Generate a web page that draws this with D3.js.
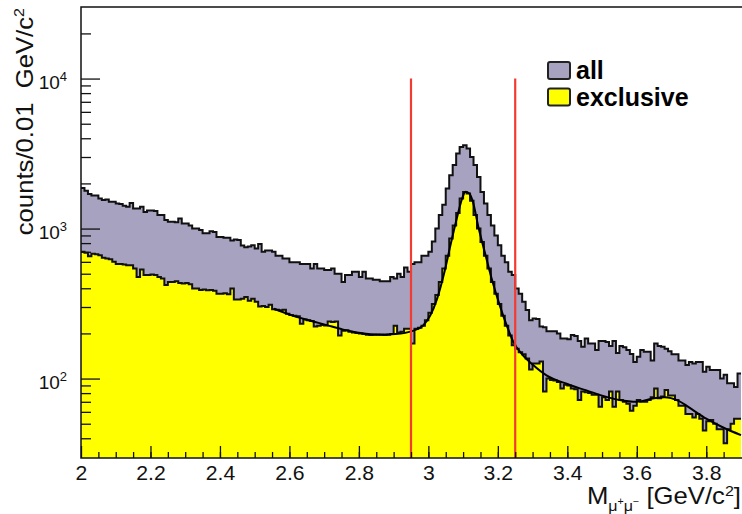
<!DOCTYPE html>
<html>
<head>
<meta charset="utf-8">
<script src="https://cdn.jsdelivr.net/npm/d3@7"></script>
<style>
body { margin: 0; background: #fff; }
svg { display: block; font-family: "Liberation Sans", Arial, Helvetica, sans-serif; }
</style>
</head>
<body>
<svg width="742" height="514"></svg>
<script>
// bin lower edges, 0.01 GeV wide, 2.00 .. 3.89
var binLow = d3.range(190).map(function (i) { return +(2 + i * 0.01).toFixed(2); });

var allCounts = [
    1865, 1790, 1700, 1660, 1660, 1585, 1550, 1560, 1510, 1510,
    1470, 1460, 1420, 1400, 1480, 1360, 1360, 1400, 1290, 1320,
    1320, 1310, 1230, 1230, 1140, 1110, 1110, 1100, 1166, 1080,
    1080, 1050, 1000, 1000, 980, 930, 930, 960, 950, 880,
    880, 870, 870, 833, 845, 840, 770, 750, 760, 775,
    736, 790, 700, 715, 715, 700, 660, 660, 631, 631,
    596, 596, 596, 580, 580, 580, 541, 580, 541, 541,
    530, 530, 541, 500, 500, 440, 490, 490, 515, 515,
    475, 515, 464, 464, 455, 455, 445, 445, 445, 475,
    465, 500, 475, 550, 515, 580, 596, 596, 660, 660,
    700, 820, 1000, 1230, 1440, 1850, 2270, 2650, 3160, 3500,
    3590, 3415, 3000, 2650, 2210, 1750, 1470, 1230, 1050, 900,
    775, 660, 596, 515, 490, 398, 368, 325, 286, 245,
    251, 250, 222, 220, 207, 207, 207, 200, 185, 185,
    183, 195, 192, 178, 163, 185, 171, 171, 155, 178,
    178, 175, 165, 178, 148, 165, 162, 155, 146, 129,
    140, 155, 151, 151, 132, 171, 165, 163, 158, 152,
    145, 145, 132, 132, 123, 129, 126, 129, 129, 111,
    120, 114, 114, 114, 100, 106, 93, 93, 88, 108
];

var exclusiveCounts = [
    700, 690, 655, 680, 675, 665, 640, 631, 625, 600,
    580, 580, 575, 570, 569, 541, 475, 533, 490, 490,
    495, 490, 475, 464, 420, 440, 440, 445, 433, 430,
    433, 425, 398, 398, 390, 392, 388, 390, 385, 368,
    368, 370, 365, 398, 336, 336, 340, 350, 330, 340,
    325, 302, 305, 300, 310, 290, 288, 285, 288, 270,
    265, 262, 260, 232, 248, 245, 242, 222, 225, 228,
    226, 240, 238, 240, 194, 208, 210, 205, 203, 201,
    200, 198, 196, 195, 196, 197, 196, 195, 196, 198,
    225, 203, 205, 215, 215, 171, 215, 218, 225, 245,
    275, 314, 360, 440, 541, 660, 858, 1050, 1270, 1585,
    1750, 1710, 1530, 1230, 1000, 815, 660, 541, 440, 368,
    314, 262, 225, 194, 167, 158, 150, 145, 136, 115,
    126, 126, 130, 82, 100, 98, 97, 95, 86, 91,
    90, 86, 85, 72, 82, 81, 80, 78, 78, 65,
    75, 72, 82, 65, 82, 72, 70, 68, 61, 66,
    72, 70, 70, 72, 75, 86, 74, 76, 84, 77,
    77, 72, 66, 66, 58, 58, 55, 58, 54, 45,
    52, 53, 50, 46, 46, 37, 46, 50, 54, 54
];

// smooth fit drawn over the exclusive sample
var fitMass = [2.555, 2.605, 2.655, 2.705, 2.755, 2.805, 2.855, 2.905, 2.955, 2.985,
    3.005, 3.025, 3.045, 3.065, 3.085, 3.097, 3.107, 3.117, 3.127, 3.145,
    3.165, 3.185, 3.205, 3.225, 3.245, 3.27, 3.30, 3.34, 3.40, 3.45,
    3.50, 3.55, 3.60, 3.65, 3.68, 3.72, 3.76, 3.80, 3.85, 3.90];
var fitCounts = [292, 265, 245, 228, 212, 201, 196, 198, 208, 226,
    262, 340, 500, 800, 1250, 1580, 1760, 1720, 1540, 1000,
    660, 440, 310, 228, 175, 145, 124, 105, 92, 84,
    77, 72, 70, 74, 75, 71, 62, 54, 47, 42];

var cutMass = [2.95, 3.25];
var cutTop = 10000;

var xTickValues = [2, 2.2, 2.4, 2.6, 2.8, 3, 3.2, 3.4, 3.6, 3.8];
var xMinorValues = d3.range(2.05, 3.9, 0.05);
var yDecades = [100, 1000, 10000];
var yMinorValues = [40, 50, 60, 70, 80, 90, 200, 300, 400, 500, 600, 700, 800, 900,
    2000, 3000, 4000, 5000, 6000, 7000, 8000, 9000, 20000];

var legendNames = ["all", "exclusive"];
var legendColors = ["#a7a2bf", "#ffff00"];

var svg = d3.select("svg");
var plotLeft = 81, plotRight = 741, plotTop = 7, plotBottom = 458;

var x = d3.scaleLinear().domain([2, 3.9]).range([plotLeft, plotRight]);
var y = d3.scaleLog().domain([30, 30000]).range([plotBottom - 1, plotTop]);

svg.append("defs").append("clipPath").attr("id", "plotclip")
    .append("rect").attr("x", plotLeft).attr("y", plotTop)
    .attr("width", 742 - plotLeft).attr("height", plotBottom - plotTop);

var plot = svg.append("g").attr("clip-path", "url(#plotclip)");

function histPoints(counts) {
    var pts = binLow.map(function (b, i) { return [b, counts[i]]; });
    pts.push([3.9, counts[counts.length - 1]]);
    return pts;
}

var area = d3.area()
    .curve(d3.curveStepAfter)
    .x(function (d) { return x(d[0]); })
    .y0(plotBottom)
    .y1(function (d) { return y(d[1]); });

var step = d3.line()
    .curve(d3.curveStepAfter)
    .x(function (d) { return x(d[0]); })
    .y(function (d) { return y(d[1]); });

var allPts = histPoints(allCounts);
var exclPts = histPoints(exclusiveCounts);

plot.append("path").attr("d", area(allPts)).attr("fill", legendColors[0]);
plot.append("path").attr("d", area(exclPts)).attr("fill", legendColors[1]);
plot.append("path").attr("d", step(allPts)).attr("fill", "none")
    .attr("stroke", "#111").attr("stroke-width", 2);
plot.append("path").attr("d", step(exclPts)).attr("fill", "none")
    .attr("stroke", "#111").attr("stroke-width", 2);

var fitLine = d3.line()
    .curve(d3.curveMonotoneX)
    .x(function (d, i) { return x(fitMass[i]); })
    .y(function (d) { return y(d); });
plot.append("path").attr("d", fitLine(fitCounts)).attr("fill", "none")
    .attr("stroke", "#000").attr("stroke-width", 2);

plot.selectAll(".cut").data(cutMass).enter().append("line")
    .attr("class", "cut")
    .attr("x1", function (d) { return x(d); }).attr("x2", function (d) { return x(d); })
    .attr("y1", y(cutTop)).attr("y2", plotBottom)
    .attr("stroke", "#f23b33").attr("stroke-width", 2.2);

// frame
svg.append("path")
    .attr("d", "M742," + plotTop + "H" + plotLeft + "V" + plotBottom + "H742")
    .attr("fill", "none").attr("stroke", "#111").attr("stroke-width", 1.5);

// x axis, ticks pointing inward
var xAxis = svg.append("g").attr("transform", "translate(0," + plotBottom + ")")
    .call(d3.axisBottom(x).tickValues(xTickValues).tickSizeInner(-12).tickSizeOuter(0)
        .tickPadding(8).tickFormat(d3.format("")));
svg.append("g").attr("transform", "translate(0," + plotBottom + ")")
    .call(d3.axisBottom(x).tickValues(xMinorValues).tickSizeInner(-6).tickSizeOuter(0)
        .tickFormat(""));

// y axis
var yAxis = svg.append("g").attr("transform", "translate(" + plotLeft + ",0)")
    .call(d3.axisLeft(y).tickValues(yDecades).tickSizeInner(-19).tickSizeOuter(0).tickPadding(14));
svg.append("g").attr("transform", "translate(" + plotLeft + ",0)")
    .call(d3.axisLeft(y).tickValues(yMinorValues).tickSizeInner(-10).tickSizeOuter(0).tickFormat(""));

svg.selectAll(".domain").remove();
svg.selectAll(".tick line").attr("stroke", "#111").attr("stroke-width", 1.3);

xAxis.selectAll("text").attr("font-size", 20).attr("fill", "#111")
    .attr("transform", "scale(1.06,1)")
    .attr("font-family", "Liberation Sans, Arial, sans-serif");

yAxis.selectAll("text")
    .attr("font-size", 19).attr("fill", "#111").attr("dy", "0.5em")
    .attr("font-family", "Liberation Sans, Arial, sans-serif")
    .each(function (d) {
        var t = d3.select(this);
        t.text(null);
        t.append("tspan").text("10");
        t.append("tspan").attr("dy", -8).attr("font-size", 13).text(Math.round(Math.log10(d)));
    });

// axis titles
var yTitle = svg.append("text")
    .attr("transform", "translate(33,8) rotate(-90) scale(1.07,1)")
    .attr("text-anchor", "end")
    .attr("font-size", 24)
    .attr("fill", "#111")
    .style("white-space", "pre");
yTitle.append("tspan").text("counts/0.01  GeV/c");
yTitle.append("tspan").attr("dy", -9).attr("font-size", 15).text("2");

var xTitle = svg.append("text")
    .attr("transform", "translate(741,504) scale(1.07,1)")
    .attr("text-anchor", "end")
    .attr("font-size", 24)
    .attr("fill", "#111")
    .style("white-space", "pre");
xTitle.append("tspan").text("M");
xTitle.append("tspan").attr("dy", 7).attr("font-size", 15).text("\u03bc");
xTitle.append("tspan").attr("dy", -6).attr("font-size", 10).text("+");
xTitle.append("tspan").attr("dy", 6).attr("font-size", 15).text("\u03bc");
xTitle.append("tspan").attr("dy", -6).attr("font-size", 10).text("\u2212");
xTitle.append("tspan").attr("dy", -1).text(" [GeV/c");
xTitle.append("tspan").attr("dy", -8).attr("font-size", 15).text("2");
xTitle.append("tspan").attr("dy", 8).text("]");

// legend
var legend = svg.append("g").selectAll("g").data(legendNames).enter().append("g")
    .attr("transform", function (d, i) { return "translate(548," + (62 + i * 26.5) + ")"; });
legend.append("rect")
    .attr("width", 22).attr("height", 17).attr("rx", 2)
    .attr("fill", function (d, i) { return legendColors[i]; })
    .attr("stroke", "#222").attr("stroke-width", 2);
legend.append("text")
    .attr("x", 28).attr("y", 17)
    .attr("font-size", 25).attr("font-weight", "bold").attr("fill", "#000")
    .text(function (d) { return d; });
</script>
</body>
</html>
